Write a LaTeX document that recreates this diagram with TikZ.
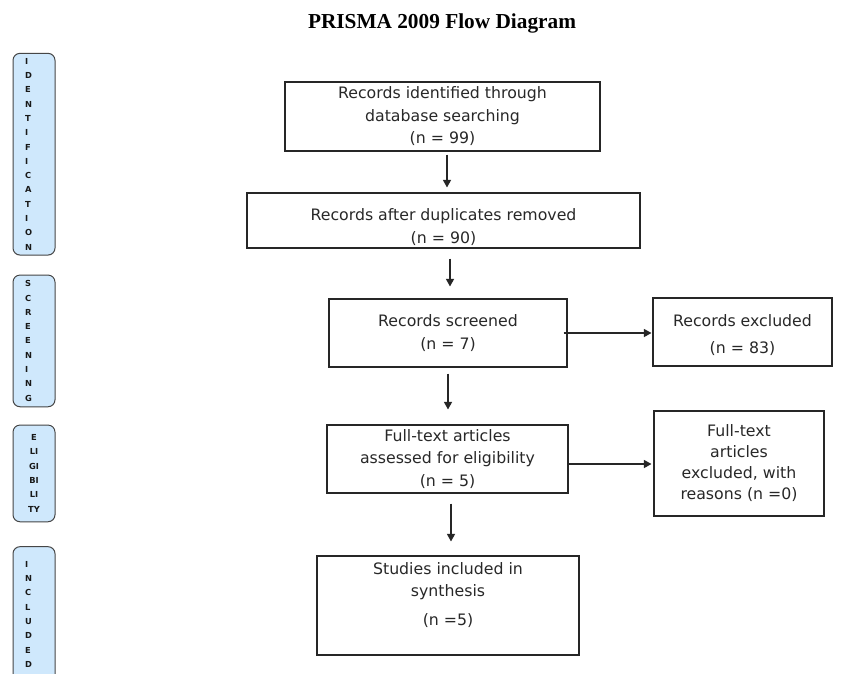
\documentclass[tikz,border=0pt]{standalone}
\usepackage{fontspec}
\setmainfont{DejaVu Sans}
\newfontfamily\titlefont{Liberation Serif}
\usetikzlibrary{arrows.meta}
\definecolor{lblfill}{RGB}{207,232,252}
\definecolor{lbldraw}{RGB}{70,70,70}
\definecolor{txt}{RGB}{40,40,40}
\begin{document}
\begin{tikzpicture}[x=1pt,y=-1pt,
  box/.style={draw=black!85, line width=1.1pt, fill=white, inner sep=0pt, align=center, text=txt, font=\fontsize{15.75}{22.5}\selectfont},
  lbl/.style={draw=lbldraw, fill=lblfill, line width=1pt, rounded corners=7pt, minimum width=42pt, text width=18pt, inner xsep=12pt, inner ysep=0pt, align=left, text=black!90, font=\bfseries\fontsize{8.3}{14.3}\selectfont},
  arr/.style={draw=black!85, line width=1.2pt, -{Triangle[length=7.5pt,width=8pt]}}]
\useasboundingbox (0,0) rectangle (848,673);
\clip (0,0) rectangle (848,673);
\fill[white] (0,0) rectangle (848,673);

\node (title) [anchor=base, font=\titlefont\bfseries\fontsize{21.3}{25}\selectfont] at (442,28) {PRISMA 2009 Flow Diagram};

% stage labels
\node (ident) [lbl, minimum height=201.7pt] at (34,154.2) {I\\D\\E\\N\\T\\I\\F\\I\\C\\A\\T\\I\\O\\N};
\node (screen) [lbl, minimum height=131.7pt] at (34,340.9) {S\\C\\R\\E\\E\\N\\I\\N\\G};
\node (elig) [lbl, minimum height=96.7pt, align=center, text width=30pt, inner xsep=6pt] at (34,473.4) {E\\LI\\GI\\BI\\LI\\TY};
\node (incl) [lbl, minimum height=135.3pt] at (34,614.3) {I\\N\\C\\L\\U\\D\\E\\D};

% boxes
\node (b1) [box, minimum width=315pt, minimum height=69pt] at (442.5,116.5) {Records identified through\\database searching\\(n = 99)};
\node (b2) [box, minimum width=393pt, minimum height=55pt] at (443.5,220.5) {\rule{0pt}{25pt}Records after duplicates removed\\(n = 90)};
\node (b3) [box, minimum width=238pt, minimum height=68pt] at (448,333) {Records screened\\(n = 7)};
\node (b4) [box, minimum width=179pt, minimum height=68pt] at (742.5,332) {\rule{0pt}{18pt}Records excluded\\[5pt](n = 83)};
\node (b5) [box, minimum width=241pt, minimum height=68pt] at (447.5,459) {Full-text articles\\assessed for eligibility\\(n = 5)};
\node (b6) [box, minimum width=170pt, minimum height=105pt, font=\fontsize{15.75}{21}\selectfont] at (739,463.5) {Full-text\\articles\\excluded, with\\reasons (n =0)};
\node (b7) [box, minimum width=262pt, minimum height=99pt] at (448,605.5) {Studies included in\\synthesis\\[6.5pt](n =5)\\\mbox{}};

% arrows
\draw[arr, shorten <=3pt, shorten >=5pt] ([xshift=4.5pt]b1.south) -- ([xshift=3.5pt]b2.north);
\draw[arr, shorten <=10pt, shorten >=12pt] ([xshift=6.5pt]b2.south) -- ([xshift=2pt]b3.north);
\draw[arr, shorten <=-4pt, shorten >=1pt] (b3.east) -- (b3.east -| b4.west);
\draw[arr, shorten <=6pt, shorten >=15pt] (b3.south) -- ([xshift=0.5pt]b5.north);
\draw[arr, shorten <=-1pt, shorten >=2pt] ([yshift=-5pt]b5.east) -- ([yshift=-5pt]b5.east -| b6.west);
\draw[arr, shorten <=10pt, shorten >=14pt] ([xshift=3.5pt]b5.south) -- ([xshift=3pt]b7.north);
\end{tikzpicture}
\end{document}
